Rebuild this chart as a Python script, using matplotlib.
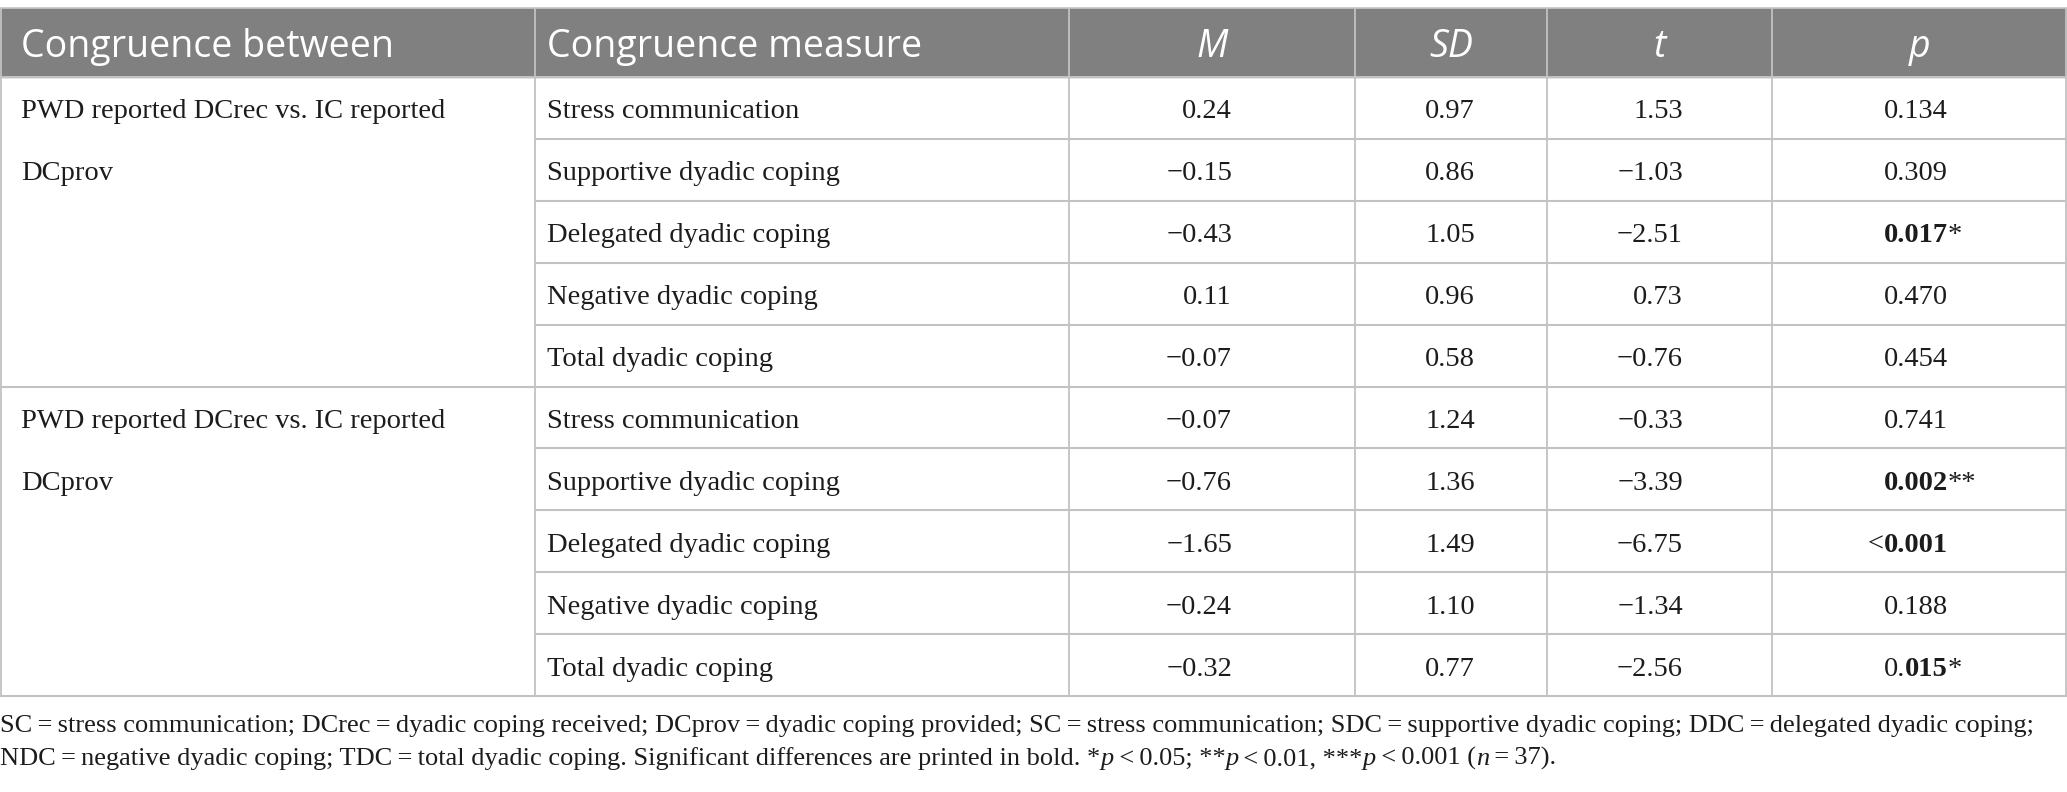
import re
import matplotlib
matplotlib.use("Agg")
import matplotlib.pyplot as plt
from matplotlib.patches import Rectangle

# table content
header = ["Congruence between", "Congruence measure", "M", "SD", "t", "p"]
group_lines = [
    ["PWD reported DCrec vs. IC reported", "DCprov"],
    ["PWD reported DCrec vs. IC reported", "DCprov"],
]
measures = ["Stress communication", "Supportive dyadic coping", "Delegated dyadic coping",
            "Negative dyadic coping", "Total dyadic coping"] * 2
m_vals = [0.24, -0.15, -0.43, 0.11, -0.07, -0.07, -0.76, -1.65, -0.24, -0.32]
sd_vals = [0.97, 0.86, 1.05, 0.96, 0.58, 1.24, 1.36, 1.49, 1.10, 0.77]
t_vals = [1.53, -1.03, -2.51, 0.73, -0.76, -0.33, -3.39, -6.75, -1.34, -2.56]
# [..] = bold part
p_vals = ["0.134", "0.309", "[0.017]*", "0.470", "0.454",
          "0.741", "[0.002]**", "<[0.001]", "0.188", "0.[015]*"]

note_line1 = ("SC\u2009=\u2009stress communication; DCrec\u2009=\u2009dyadic coping received; "
              "DCprov\u2009=\u2009dyadic coping provided; SC\u2009=\u2009stress communication; "
              "SDC\u2009=\u2009supportive dyadic coping; DDC\u2009=\u2009delegated dyadic coping;")
# (text, italic?)
note_line2 = [
    ("NDC\u2009=\u2009negative dyadic coping; TDC\u2009=\u2009total dyadic coping. "
     "Significant differences are printed in bold. *", False),
    ("p", True), ("\u2009<\u20090.05; **", False),
    ("p", True), ("\u2009<\u20090.01, ***", False),
    ("p", True), ("\u2009<\u20090.001 (", False),
    ("n", True), ("\u2009=\u200937).", False),
]

# layout (pixels)
W, H = 2067, 792
col_edges = [0.7, 535, 1069, 1355, 1547, 1772, 2066.3]
num_right = [1232, 1475, 1683]
p_right = 1948
head_top, head_bot = 8, 77
row_h = 61.9
grid_col = "#c2c2c2"
text_col = "#1c1c1c"
serif = ["Liberation Serif", "DejaVu Serif"]
sans = ["Open Sans", "DejaVu Sans"]
body_fs = 20.5

fig = plt.figure(figsize=(W / 100, H / 100), dpi=100)
ax = fig.add_axes([0, 0, 1, 1])
ax.set_xlim(0, W)
ax.set_ylim(H, 0)
ax.axis("off")
renderer = fig.canvas.get_renderer()


def fmt(v):
    return f"{v:.2f}".replace("-", "\u2212")


def draw_runs(x, y, runs, ha="left", **kw):
    texts = []
    for s, st in runs:
        texts.append(ax.text(0, y, s, va="baseline", ha="left", **{**kw, **st}))
    widths = [t.get_window_extent(renderer).width for t in texts]
    total = sum(widths)
    start = x - total if ha == "right" else x
    for t, w in zip(texts, widths):
        t.set_x(start)
        start += w
    return start


# header band
ax.add_patch(Rectangle((0, head_top), W, head_bot - head_top, color="#808080", zorder=0))
ax.hlines(head_top, 0, W, color="#c8c8c8", lw=1.2, zorder=2)

n_rows = len(measures)
bottom = head_bot + n_rows * row_h
for i in range(n_rows + 1):
    y = head_bot + i * row_h
    x0 = 0 if i % 5 == 0 else col_edges[1]
    ax.hlines(y, x0, W, color=grid_col, lw=1.5, zorder=2)
ax.vlines(col_edges, head_top, bottom, color=grid_col, lw=1.3, zorder=2)

# header texts
head_base = 57
ax.text(21, head_base, header[0], color="white", fontsize=27, family=sans, va="baseline")
ax.text(col_edges[1] + 12, head_base, header[1], color="white", fontsize=27, family=sans,
        va="baseline")
for j, lab in enumerate(header[2:]):
    cx = (col_edges[j + 2] + col_edges[j + 3]) / 2
    ax.text(cx, head_base, lab, color="white", fontsize=27, family=sans, style="italic",
            ha="center", va="baseline")

# body
base_off = 10.5
for g, lines in enumerate(group_lines):
    for k, line in enumerate(lines):
        yb = head_bot + (g * 5 + k + 0.5) * row_h + base_off
        ax.text(21, yb, line, fontsize=body_fs, family=serif, color=text_col, va="baseline")

for i in range(n_rows):
    yb = head_bot + (i + 0.5) * row_h + base_off
    ax.text(col_edges[1] + 12, yb, measures[i], fontsize=body_fs, family=serif,
            color=text_col, va="baseline")
    for xr, vals in zip(num_right, [m_vals, sd_vals, t_vals]):
        ax.text(xr, yb, fmt(vals[i]), fontsize=body_fs, family=serif, color=text_col,
                ha="right", va="baseline")
    s = p_vals[i]
    stars = s[len(s.rstrip("*")):]
    num = s.rstrip("*")
    runs = []
    for part in re.split(r"(\[[^\]]*\])", num):
        if not part:
            continue
        if part.startswith("["):
            runs.append((part[1:-1], {"weight": "bold"}))
        else:
            runs.append((part, {}))
    draw_runs(p_right, yb, runs, ha="right", fontsize=body_fs, family=serif, color=text_col)
    if stars:
        ax.text(p_right, yb, stars, fontsize=body_fs, family=serif, color=text_col,
                va="baseline")

# footnote, size fitted to the reference line width
probe = ax.text(0, 0, note_line1, fontsize=10, family=serif)
note_fs = 10 * 2035 / probe.get_window_extent(renderer).width
probe.remove()
ax.text(0, 732, note_line1, fontsize=note_fs, family=serif, color=text_col, va="baseline")
draw_runs(0, 765, [(s, {"style": "italic"} if it else {}) for s, it in note_line2],
          fontsize=note_fs, family=serif, color=text_col)

fig.savefig("out.png", dpi=100)
